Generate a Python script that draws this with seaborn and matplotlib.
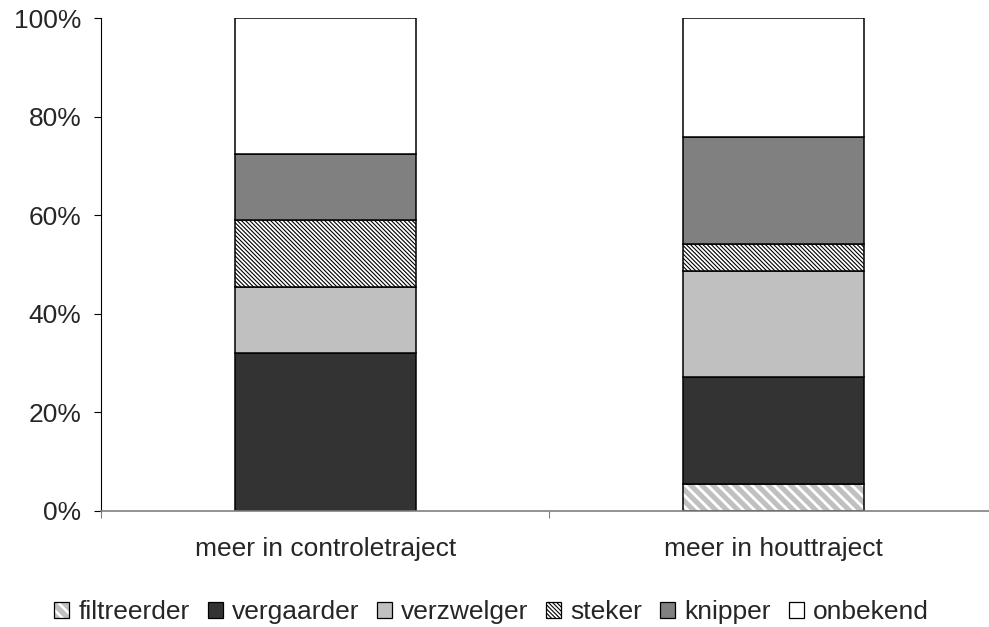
import matplotlib
matplotlib.use('Agg')
import matplotlib.pyplot as plt
from matplotlib.patches import Patch
from matplotlib.legend_handler import HandlerTuple
from matplotlib.ticker import FuncFormatter, FixedLocator
import seaborn as sns
import numpy as np

# data (percent of each bar)
categories = ['meer in controletraject', 'meer in houttraject']
groups = ['filtreerder', 'vergaarder', 'verzwelger', 'steker', 'knipper', 'onbekend']
filtreerder = [0.0, 5.5]
vergaarder = [32.0, 21.7]
verzwelger = [13.4, 21.5]
steker = [13.6, 5.5]
knipper = [13.4, 21.7]
onbekend = [27.6, 24.1]

series = [filtreerder, vergaarder, verzwelger, steker, knipper, onbekend]
faces = ['#c0c0c0', '#333333', '#c0c0c0', '#ffffff', '#808080', '#ffffff']
hatches = ['\\' * 3, None, None, '\\' * 8, None, None]
hatch_cols = ['#ffffff', None, None, '#000000', None, None]
hatch_lw = [2.0, None, None, 0.8, None, None]


def hatch_width(artist, lw):
    # make the hatch linewidth stick to this one patch
    if hasattr(artist, 'set_hatch_linewidth'):
        artist.set_hatch_linewidth(lw)
    orig = artist.draw

    def draw(renderer):
        with plt.rc_context({'hatch.linewidth': lw}):
            orig(renderer)
    artist.draw = draw


sns.set_theme(style='white')
plt.rcParams['font.family'] = ['Liberation Sans', 'DejaVu Sans']
FS = 19

fig = plt.figure(figsize=(9.89, 6.27), dpi=100)
ax = fig.add_axes([101 / 989, 1 - 511 / 627, 1 - 101 / 989, (511 - 18) / 627])

bar_w = 0.404
bottom = np.zeros(len(categories))
for vals, fc, h, hc, hlw in zip(series, faces, hatches, hatch_cols, hatch_lw):
    vals = np.array(vals)
    if h is not None:
        with plt.rc_context({'hatch.linewidth': hlw}):
            sns.barplot(x=categories, y=vals, bottom=bottom, ax=ax, color=fc,
                        width=bar_w, saturation=1, hatch=h, edgecolor=hc,
                        linewidth=0, errorbar=None)
        for p in ax.patches[-len(categories):]:
            hatch_width(p, hlw)
    sns.barplot(x=categories, y=vals, bottom=bottom, ax=ax,
                color=fc if h is None else 'none', fill=(h is None),
                width=bar_w, saturation=1, edgecolor='black',
                linewidth=1.1, errorbar=None)
    bottom = bottom + vals

ax.set_xlim(-0.5, 1.48)
ax.set_ylim(0, 100)
ax.set_yticks(np.arange(0, 101, 20))
ax.yaxis.set_major_formatter(FuncFormatter(lambda v, _: f'{v:.0f}%'))
ax.tick_params(axis='y', which='major', direction='out', length=5, width=0.8,
               color='#000000', pad=9, labelsize=FS, left=True)

ax.set_xticks([0, 1])
ax.set_xticklabels(categories)
ax.xaxis.set_minor_locator(FixedLocator([-0.5, 0.5]))
ax.tick_params(axis='x', which='major', length=0, pad=19, labelsize=FS)
ax.tick_params(axis='x', which='minor', direction='out', length=5, width=0.8,
               color='#808080', bottom=True)
ax.set_xlabel('')
ax.set_ylabel('')

for side in ['top', 'right']:
    ax.spines[side].set_visible(False)
ax.spines['left'].set_color('#000000')
ax.spines['left'].set_linewidth(0.8)
ax.spines['bottom'].set_color('#808080')
ax.spines['bottom'].set_linewidth(1.2)
ax.set_facecolor('white')

# legend handles: hatched fill plus a black outline on top
handles = []
for name, fc, h, hc in zip(groups, faces, hatches, hatch_cols):
    if h is None:
        handles.append(Patch(facecolor=fc, edgecolor='black', linewidth=0.9))
    else:
        hp = Patch(facecolor=fc, edgecolor=hc, hatch=h, linewidth=0)
        handles.append((hp, Patch(fill=False, edgecolor='black', linewidth=0.9)))
leg = fig.legend(handles=handles, labels=groups, loc='center',
                 bbox_to_anchor=(0.497, 1 - 612 / 627), ncol=6, frameon=False,
                 fontsize=FS, handlelength=0.57, handleheight=0.57,
                 handletextpad=0.34, columnspacing=0.68, borderaxespad=0,
                 handler_map={tuple: HandlerTuple(ndivide=1, pad=0)})
for p in leg.findobj(Patch):
    if p.get_hatch():
        hatch_width(p, 1.8 if p.get_hatch() == hatches[0] else 0.8)

fig.savefig('out.png', dpi=100, facecolor='white')
plt.close(fig)
